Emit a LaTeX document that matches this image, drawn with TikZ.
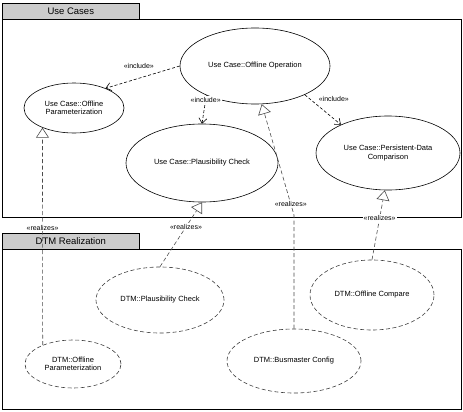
\documentclass[tikz,border=0pt]{standalone}
\usepackage{fontspec}
\setmainfont{Liberation Sans}
\usetikzlibrary{positioning,arrows.meta,shapes.geometric}

\begin{document}
\begin{tikzpicture}[x=1pt, y=-1pt, font=\fontsize{7.5}{8.5}\selectfont, line width=.6pt,
  uc/.style={draw, ellipse, inner sep=0pt, align=center},
  dtm/.style={uc, draw=black!75, dash pattern=on 4pt off 2.5pt},
  pkgtab/.style={draw, fill=black!20, anchor=north west, minimum width=137pt, minimum height=16pt, font=\fontsize{9.5}{11}\selectfont},
  pkgbody/.style={draw, fill=white, anchor=north west, minimum width=459pt},
  incl/.style={dash pattern=on 3pt off 2pt, -{Straight Barb[length=5pt, width=8pt]}},
  rlz/.style={draw=black!70, dash pattern=on 4pt off 2.5pt, -{Triangle[open, length=10pt, width=13pt]}},
  stereo/.style={fill=white, inner sep=1pt, font=\fontsize{7}{8}\selectfont}]
\useasboundingbox (0,0) rectangle (463,412);
\node[pkgbody, minimum height=198pt] (ucbody) at (2,19) {};
\node[pkgtab] (uctab) at (2,3) {Use Cases};
\node[pkgbody, minimum height=160pt] (dtmbody) at (2,249) {};
\node[pkgtab] (dtmtab) at (2,233) {DTM Realization};
\node[uc, minimum width=150pt, minimum height=76pt] (uop) at (255,66) {Use Case::Offline Operation};
\node[uc, minimum width=100pt, minimum height=50pt] (upar) at (74,108) {Use Case::Offline\\Parameterization};
\node[uc, minimum width=152pt, minimum height=78pt] (upl) at (202,163) {Use Case::Plausibility Check};
\node[uc, minimum width=144pt, minimum height=74pt] (upers) at (388,153) {Use Case::Persistent-Data\\Comparison};
\node[dtm, minimum width=128pt, minimum height=66pt] (dpl) at (160,300) {DTM::Plausibility Check};
\node[dtm, minimum width=96pt, minimum height=48pt] (dpar) at (73,364) {DTM::Offline\\Parameterization};
\node[dtm, minimum width=124pt, minimum height=70pt] (dcmp) at (372,295) {DTM::Offline Compare};
\node[dtm, minimum width=134pt, minimum height=64pt] (dbus) at (294,361) {DTM::Busmaster Config};
\coordinate (bend) at (294,215);
\draw[incl] (uop.west) -- node[pos=.3, above left=0pt, font=\fontsize{7}{8}\selectfont] {«include»} (upar.32);
\draw[incl] (uop.211) -- node[pos=.15, stereo] {«include»} (upl.north);
\draw[incl] (uop.330) -- node[pos=.15, right=5pt, font=\fontsize{7}{8}\selectfont] {«include»} (upers.149);
\draw[rlz] (dpar.148) -- node[pos=.54, stereo] {«realizes»} (upar.212);
\draw[rlz] (dpl.north) -- node[pos=.62, stereo] {«realizes»} (upl.south);
\draw[rlz] (dbus.north) -- (bend) -- node[pos=.1, stereo] {«realizes»} (uop.-80);
\draw[rlz] (dcmp.north) -- node[pos=.6, stereo] {«realizes»} (upers.-95);
\end{tikzpicture}
\end{document}
